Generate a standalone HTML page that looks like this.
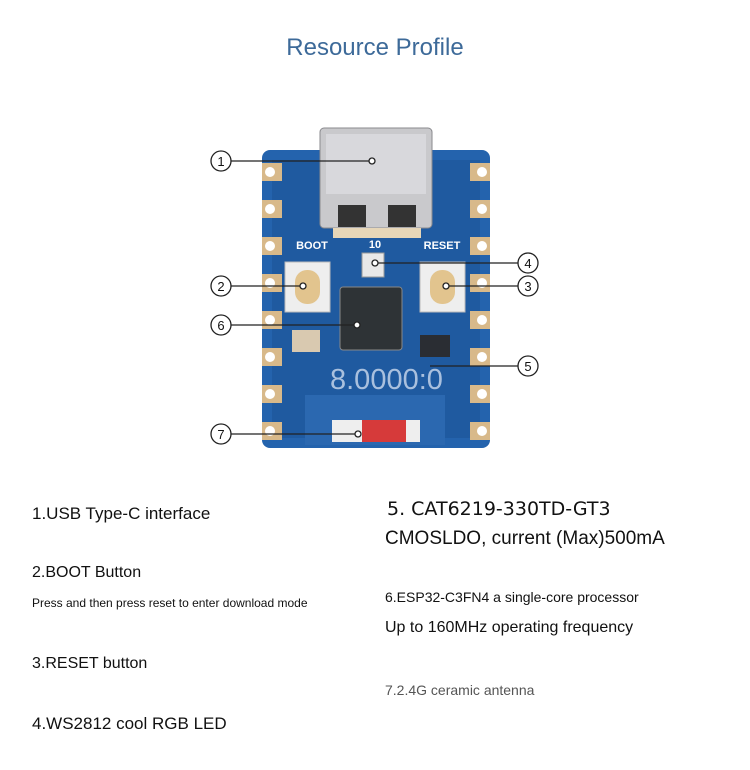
<!DOCTYPE html>
<html><head><meta charset="utf-8"><style>
body{margin:0;background:#fff;width:750px;height:770px;position:relative;overflow:hidden;font-family:"Liberation Sans",sans-serif}
.t{position:absolute;white-space:nowrap;color:#111}
</style></head><body>
<div class="t" style="left:0;width:750px;text-align:center;top:34px;font-size:24px;color:#3d6a99">Resource Profile</div>
<svg width="750" height="470" style="position:absolute;left:0;top:0">
<defs>
<g id="padL"><rect x="0" y="-9" width="20" height="18" fill="#d8b98a"/><circle cx="8" cy="0" r="5" fill="#fff"/></g>
</defs>
<rect x="262" y="150" width="228" height="298" rx="8" fill="#2463ad"/>
<rect x="272" y="160" width="208" height="278" fill="#1f5aa0"/>
<!-- side pads -->
<g>
<use href="#padL" x="262" y="172"/><use href="#padL" x="262" y="209"/><use href="#padL" x="262" y="246"/><use href="#padL" x="262" y="283"/><use href="#padL" x="262" y="320"/><use href="#padL" x="262" y="357"/><use href="#padL" x="262" y="394"/><use href="#padL" x="262" y="431"/>
<g transform="translate(752,0) scale(-1,1)">
<use href="#padL" x="262" y="172"/><use href="#padL" x="262" y="209"/><use href="#padL" x="262" y="246"/><use href="#padL" x="262" y="283"/><use href="#padL" x="262" y="320"/><use href="#padL" x="262" y="357"/><use href="#padL" x="262" y="394"/><use href="#padL" x="262" y="431"/>
</g>
</g>
<!-- USB C -->
<rect x="320" y="128" width="112" height="100" rx="4" fill="#c9c9cc" stroke="#8a8a8e"/>
<rect x="326" y="134" width="100" height="60" fill="#d8d8dc"/>
<rect x="338" y="205" width="28" height="22" fill="#333"/><rect x="388" y="205" width="28" height="22" fill="#333"/>
<rect x="333" y="228" width="88" height="10" fill="#e6d6b8"/>
<text x="312" y="249" font-size="11" font-weight="bold" fill="#fff" text-anchor="middle" font-family="Liberation Sans">BOOT</text>
<text x="375" y="248" font-size="11" font-weight="bold" fill="#fff" text-anchor="middle" font-family="Liberation Sans">10</text>
<text x="442" y="249" font-size="11" font-weight="bold" fill="#fff" text-anchor="middle" font-family="Liberation Sans">RESET</text>
<!-- LED -->
<rect x="362" y="253" width="22" height="24" fill="#e8e8e8" stroke="#999"/>
<!-- buttons -->
<rect x="285" y="262" width="45" height="50" fill="#eee" stroke="#bbb"/>
<rect x="295" y="270" width="25" height="34" rx="12" fill="#e2c48e"/>
<rect x="420" y="262" width="45" height="50" fill="#eee" stroke="#bbb"/>
<rect x="430" y="270" width="25" height="34" rx="12" fill="#e2c48e"/>
<!-- chip -->
<rect x="340" y="287" width="62" height="63" rx="3" fill="#2e3336" stroke="#888"/>
<rect x="292" y="330" width="28" height="22" fill="#d9c9b0"/>
<rect x="420" y="335" width="30" height="22" fill="#2a2d33"/>
<rect x="305" y="395" width="140" height="50" fill="#2b68b0"/>
<!-- antenna -->
<rect x="332" y="420" width="88" height="22" fill="#eee"/>
<rect x="362" y="420" width="44" height="22" fill="#d63a3a"/>
<text x="330" y="389" font-size="29" fill="#a9c0de" font-family="Liberation Sans">8.0000:0</text>
<!-- callouts -->
<g stroke="#222" stroke-width="1.3" fill="#fff">
<line x1="231" y1="161" x2="372" y2="161"/><circle cx="372" cy="161" r="3"/>
<line x1="231" y1="286" x2="303" y2="286"/><circle cx="303" cy="286" r="3"/>
<line x1="231" y1="325" x2="357" y2="325"/><circle cx="357" cy="325" r="3"/>
<line x1="231" y1="434" x2="358" y2="434"/><circle cx="358" cy="434" r="3"/>
<line x1="375" y1="263" x2="518" y2="263"/><circle cx="375" cy="263" r="3"/>
<line x1="446" y1="286" x2="518" y2="286"/><circle cx="446" cy="286" r="3"/>
<line x1="430" y1="366" x2="518" y2="366"/>
<circle cx="221" cy="161" r="10"/><circle cx="221" cy="286" r="10"/><circle cx="221" cy="325" r="10"/><circle cx="221" cy="434" r="10"/>
<circle cx="528" cy="263" r="10"/><circle cx="528" cy="286" r="10"/><circle cx="528" cy="366" r="10"/>
</g>
<g font-size="13" fill="#111" text-anchor="middle" font-family="Liberation Sans">
<text x="221" y="166">1</text><text x="221" y="291">2</text><text x="221" y="330">6</text><text x="221" y="439">7</text>
<text x="528" y="268">4</text><text x="528" y="291">3</text><text x="528" y="371">5</text>
</g>
</svg>
<div class="t" style="left:32px;top:504px;font-size:17px">1.USB Type-C interface</div>
<div class="t" style="left:32px;top:564px;font-size:16px">2.BOOT Button</div>
<div class="t" style="left:32px;top:596px;font-size:12px">Press and then press reset to enter download mode</div>
<div class="t" style="left:32px;top:655px;font-size:16px">3.RESET button</div>
<div class="t" style="left:32px;top:714px;font-size:17px">4.WS2812 cool RGB LED</div>
<div class="t" style="left:387px;top:498px;font-size:19px;font-family:'DejaVu Sans',sans-serif">5. CAT6219-330TD-GT3</div>
<div class="t" style="left:385px;top:528px;font-size:19px">CMOSLDO, current (Max)500mA</div>
<div class="t" style="left:385px;top:589px;font-size:14px">6.ESP32-C3FN4 a single-core processor</div>
<div class="t" style="left:385px;top:619px;font-size:16px">Up to 160MHz operating frequency</div>
<div class="t" style="left:385px;top:682px;font-size:14px;color:#555">7.2.4G ceramic antenna</div>
</body></html>
